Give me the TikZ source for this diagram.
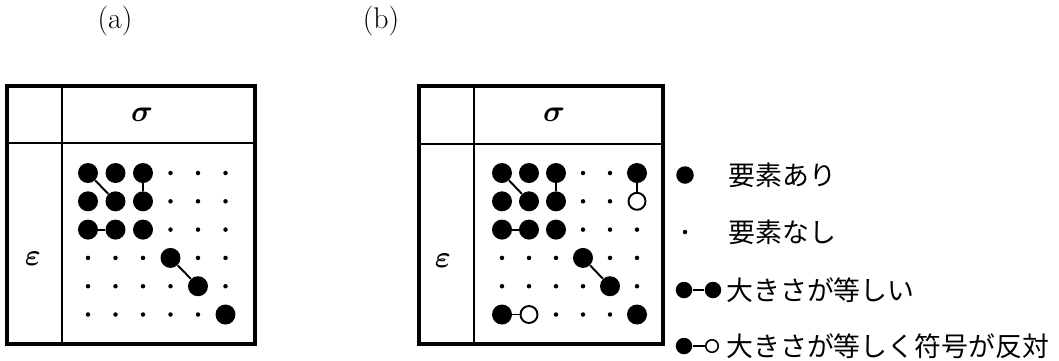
\documentclass[tikz,border=0pt]{standalone}
\usepackage{amsmath}
\usepackage{fontspec}
\newfontfamily\jpfont{Noto Sans CJK JP}
\usetikzlibrary{positioning}
\tikzset{
  dotF/.style={circle,fill=black,inner sep=0pt,minimum size=4mm},
  dotS/.style={circle,fill=black,inner sep=0pt,minimum size=0.9mm},
  dotO/.style={circle,draw,line width=1.1pt,fill=white,inner sep=0pt,minimum size=3.4mm},
  frame/.style={line width=1.8pt},
  rule/.style={line width=0.9pt},
  pair/.style={line width=1.1pt},
  sym/.style={inner sep=0pt,font=\fontsize{17}{19}\selectfont},
  legtext/.style={anchor=west,inner sep=0pt,font=\jpfont\fontsize{15.3}{17}\selectfont},
}
\begin{document}
\begin{tikzpicture}[x=0.02cm,y=-0.02cm]
  \useasboundingbox (0,0) rectangle (1059,360);
  % panel labels
  \node[sym] (labA) at (115,21) {(a)};
  \node[sym] (labB) at (381,21) {(b)};
  % frames
  \draw[frame] (7,86) rectangle (255,344);
  \draw[rule] (62,86) -- (62,344);
  \draw[rule] (7,143) -- (255,143);
  \draw[frame] (419,86) rectangle (663,344);
  \draw[rule] (474,86) -- (474,344);
  \draw[rule] (419,144) -- (663,144);
  \node[sym] (sigA) at (142,115) {$\boldsymbol{\sigma}$};
  \node[sym] (epsA) at (33,259) {$\boldsymbol{\varepsilon}$};
  \node[sym] (sigB) at (554,115) {$\boldsymbol{\sigma}$};
  \node[sym] (epsB) at (443,261) {$\boldsymbol{\varepsilon}$};
  % matrix (a)
  \foreach \row [count=\r] in {{F,F,F,S,S,S},{F,F,F,S,S,S},{F,F,F,S,S,S},
                               {S,S,S,F,S,S},{S,S,S,S,F,S},{S,S,S,S,S,F}}
    \foreach \t [count=\c] in \row
      \node[dot\t] (a\c\r) at ({88+27.5*(\c-1)},{173+28.3*(\r-1)}) {};
  \draw[pair] (a11) -- (a22);
  \draw[pair] (a31) -- (a32);
  \draw[pair] (a13) -- (a23);
  \draw[pair] (a44) -- (a55);
  % matrix (b)
  \foreach \row [count=\r] in {{F,F,F,S,S,F},{F,F,F,S,S,O},{F,F,F,S,S,S},
                               {S,S,S,F,S,S},{S,S,S,S,F,S},{F,O,S,S,S,F}}
    \foreach \t [count=\c] in \row
      \node[dot\t] (b\c\r) at ({502+27*(\c-1)},{173+28.3*(\r-1)}) {};
  \draw[pair] (b11) -- (b22);
  \draw[pair] (b31) -- (b32);
  \draw[pair] (b13) -- (b23);
  \draw[pair] (b44) -- (b55);
  \draw[pair] (b61) -- (b62);
  \draw[pair] (b16) -- (b26);
  % legend
  \node[dotF,minimum size=3.5mm] (l1) at (685,175) {};
  \node[legtext] (t1) at (728,175) {要素あり};
  \node[dotS] (l2) at (685,232) {};
  \node[legtext] (t2) at (728,232) {要素なし};
  \node[dotF,minimum size=3.3mm] (l3a) at (684,290) {};
  \node[dotF,minimum size=3.3mm] (l3b) at (713,290) {};
  \draw[pair] (l3a) -- (l3b);
  \node[legtext] (t3) at (726,290) {大きさが等しい};
  \node[dotF,minimum size=3.3mm] (l4a) at (684,346) {};
  \node[dotO,minimum size=2.5mm,line width=0.9pt] (l4b) at (712,346) {};
  \draw[pair] (l4a) -- (l4b);
  \node[legtext] (t4) at (726,346) {大きさが等しく符号が反対};
\end{tikzpicture}
\end{document}
